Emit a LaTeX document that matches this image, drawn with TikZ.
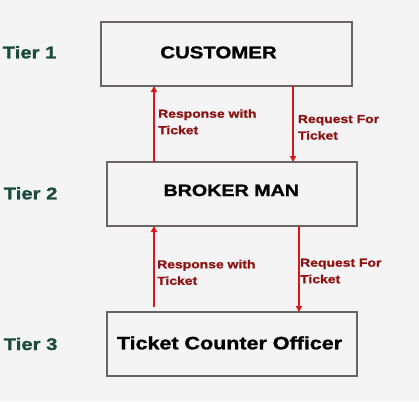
\documentclass[tikz,border=0pt]{standalone}
\usepackage{fontspec}
\setmainfont{Liberation Sans}[FakeStretch=1.2,BoldFeatures={FakeBold=1.2}]
\usetikzlibrary{arrows.meta}
\definecolor{bgc}{HTML}{F5F4F4}
\definecolor{boxc}{HTML}{6A6464}
\definecolor{tierc}{HTML}{1B4B3C}
\definecolor{lblc}{HTML}{8C1414}
\definecolor{arrc}{HTML}{D81818}
\begin{document}
\begin{tikzpicture}[x=1pt,y=-1pt,
  tierbox/.style={draw=boxc,line width=2pt},
  tiertext/.style={anchor=base west,inner sep=0pt,text=tierc,font=\bfseries\fontsize{16.9}{18}\selectfont},
  boxtext/.style={anchor=base,inner sep=0pt,text=black,font=\bfseries\fontsize{17}{19}\selectfont},
  lbl/.style={anchor=base west,inner sep=0pt,text=lblc,align=left,font=\bfseries\fontsize{11.6}{16.5}\selectfont},
  flow/.style={draw=arrc,line width=1.8pt,-{Triangle[length=6pt,width=6pt]}}]
\fill[bgc] (0,0) rectangle (419,401);
\useasboundingbox (0,0) rectangle (419,401);
% boxes
\node[tierbox,minimum width=251pt,minimum height=64pt,inner sep=0pt] (c) at (226.6,54) {};
\node[tierbox,minimum width=250.6pt,minimum height=64pt,inner sep=0pt] (b) at (232,194) {};
\node[tierbox,minimum width=250.6pt,minimum height=64pt,inner sep=0pt] (t) at (232,344) {};
% box texts
\node[boxtext] (ct) at (218.5,58.3) {CUSTOMER};
\node[boxtext,font=\bfseries\fontsize{16.4}{19}\selectfont] (bt) at (231.3,196) {BROKER MAN};
\node[boxtext,font=\bfseries\fontsize{17.9}{19}\selectfont] (tt) at (229.5,349.3) {Ticket Counter Officer};
% tier labels
\node[tiertext] (t1) at (2.5,58.3) {Tier 1};
\node[tiertext] (t2) at (3.5,199.3) {Tier 2};
\node[tiertext] (t3) at (3.5,350) {Tier 3};
% arrows
\coordinate (a1s) at (154,162);
\coordinate (a1e) at (154,86);
\coordinate (a2s) at (293,86);
\coordinate (a2e) at (293,162);
\coordinate (a3s) at (154,307);
\coordinate (a3e) at (154,226);
\coordinate (a4s) at (299,226);
\coordinate (a4e) at (299,312);
\draw[flow] (a1s) -- (a1e);
\draw[flow] (a2s) -- (a2e);
\draw[flow] (a3s) -- (a3e);
\draw[flow] (a4s) -- (a4e);
% labels (anchor at baseline of the last line)
\node[lbl] (l1) at (158,134.2) {Response with\\Ticket};
\node[lbl] (l2) at (297.7,139.5) {Request For\\Ticket};
\node[lbl] (l3) at (157,284.8) {Response with\\Ticket};
\node[lbl] (l4) at (300,283.2) {Request For\\Ticket};
\end{tikzpicture}
\end{document}
